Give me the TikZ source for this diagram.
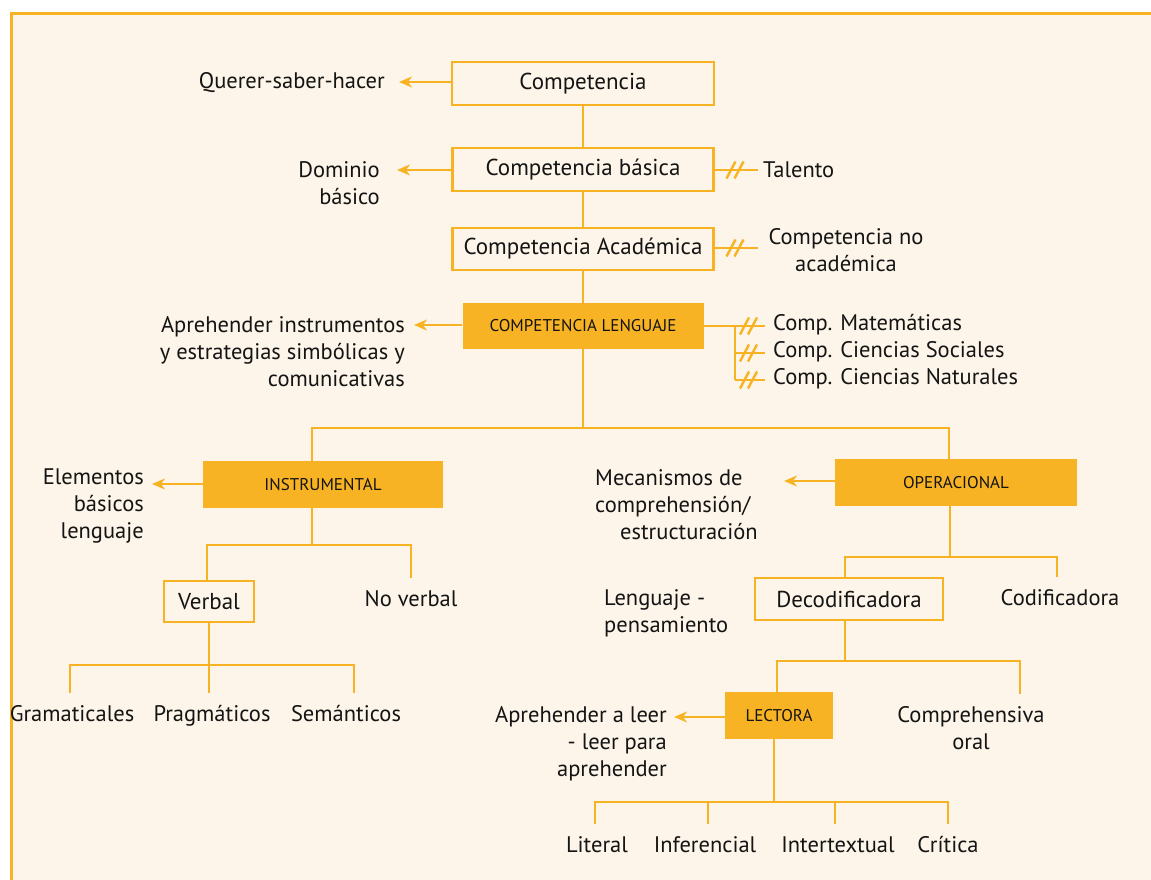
\documentclass[tikz,border=0pt]{standalone}
\usepackage{fontspec}
\setmainfont{PT Sans}
\usetikzlibrary{arrows.meta,decorations.markings}
\definecolor{frameor}{HTML}{F7B324}
\definecolor{paper}{HTML}{FDF5E9}
\definecolor{ink}{HTML}{141414}
\begin{document}
\begin{tikzpicture}[x=1pt,y=-1pt,
  link/.style={draw=frameor,line width=2.9pt},
  arr/.style={link,-{Stealth[length=13pt,width=11pt,inset=4pt]}},
  outbox/.style={draw=frameor,line width=2.9pt,fill=paper,inner sep=0pt,text=ink,
    font=\fontsize{23}{27}\selectfont},
  solidbox/.style={fill=frameor,inner sep=0pt,text=ink,font=\fontsize{17}{20}\selectfont},
  lbl/.style={inner sep=3pt,text=ink,font=\fontsize{22.5}{27}\selectfont},
  leaf/.style={lbl,inner ysep=12pt},
  neg/.style={postaction={decorate},decoration={markings,mark=at position 0.5 with
    {\draw[frameor,line width=2.4pt] (-10,8.5)--(-1,-8.5) (-2,8.5)--(7,-8.5);}}}
]
\useasboundingbox (0,0) rectangle (1151,880);
% page frame
\fill[paper] (10,12) rectangle (1151,880);
\draw[frameor,line width=3pt] (11.5,880) -- (11.5,13.5) -- (1151,13.5);

% main column
\node[outbox,minimum width=262pt,minimum height=43pt] (comp) at (583,83.5) {Competencia};
\node[outbox,minimum width=261pt,minimum height=43pt] (cb) at (583,169.5) {Competencia básica};
\node[outbox,minimum width=261pt,minimum height=42pt] (ca) at (583,249) {Competencia Académica};
\node[solidbox,minimum width=241pt,minimum height=46pt] (cl) at (583,326) {COMPETENCIA LENGUAJE};
\draw[link] (comp) -- (cb);
\draw[link] (cb) -- (ca);
\draw[link] (ca) -- (cl);

% left-hand outcomes
\node[lbl,anchor=base east] (qsh) at (388,89) {Querer-saber-hacer};
\coordinate (tipQ) at (399,82);
\draw[arr] (comp.west |- tipQ) -- (tipQ);
\node[lbl,anchor=north east,align=right] (dom) at (383,158) {Dominio\\básico};
\coordinate (tipD) at (397,170);
\draw[arr] (cb.west |- tipD) -- (tipD);
\node[lbl,anchor=north east,align=right] (apr) at (408,313) {Aprehender instrumentos\\y estrategias simbólicas y\\comunicativas};
\coordinate (tipA) at (414,325);
\draw[arr] (cl.west |- tipA) -- (tipA);

% right-hand contrasts
\node[lbl,anchor=base west] (tal) at (760,177) {Talento};
\coordinate (talL) at (758,170);
\draw[link,neg] (cb.east |- talL) -- (talL);
\node[lbl,anchor=north,align=center] (cna) at (846,225) {Competencia no\\académica};
\coordinate (cnaL) at (758,248);
\draw[link,neg] (ca.east |- cnaL) -- (cnaL);

\node[lbl,anchor=base west] (cm1) at (770,330) {Comp. Matemáticas};
\node[lbl,anchor=base west] (cm2) at (770,357) {Comp. Ciencias Sociales};
\node[lbl,anchor=base west] (cm3) at (770,384) {Comp. Ciencias Naturales};
\coordinate (cmJ1) at (735,326);
\coordinate (cmJ2) at (735,353);
\coordinate (cmJ3) at (735,380);
\coordinate (cmE1) at (765,326);
\coordinate (cmE2) at (765,353);
\coordinate (cmE3) at (765,380);
\draw[link] (cl.east) -- (cmJ1) -- (cmJ3);
\draw[link,neg] (cmJ1) -- (cmE1);
\draw[link,neg] (cmJ2) -- (cmE2);
\draw[link,neg] (cmJ3) -- (cmE3);

% second level
\node[solidbox,minimum width=240pt,minimum height=47pt] (instr) at (323,484.5) {INSTRUMENTAL};
\node[solidbox,minimum width=242pt,minimum height=47pt] (oper) at (956,482.5) {OPERACIONAL};
\coordinate (bA) at (583,428);
\coordinate (bAl) at (312,428);
\coordinate (bAr) at (949,428);
\draw[link] (cl.south) -- (bA);
\draw[link] (instr.north -| bAl) -- (bAl) -- (bAr) -- (oper.north -| bAr);

% instrumental branch
\node[lbl,anchor=north east,align=right] (ele) at (147,466) {Elementos\\básicos\\lenguaje};
\coordinate (tipE) at (152,484);
\draw[arr] (instr.west |- tipE) -- (tipE);
\node[outbox,minimum width=90pt,minimum height=41pt] (verb) at (209,601.5) {Verbal};
\node[leaf,anchor=base] (nov) at (411,606) {No verbal};
\coordinate (bB) at (312,545);
\coordinate (bBl) at (207,545);
\coordinate (bBr) at (411,545);
\draw[link] (instr.south -| bB) -- (bB);
\draw[link] (verb.north -| bBl) -- (bBl) -- (bBr) -- (nov.north -| bBr);

\node[leaf,anchor=base] (gra) at (72,721) {Gramaticales};
\node[leaf,anchor=base] (pra) at (212,721) {Pragmáticos};
\node[leaf,anchor=base] (sem) at (346,721) {Semánticos};
\coordinate (bC) at (209,665);
\coordinate (bCl) at (70,665);
\coordinate (bCr) at (354,665);
\draw[link] (verb.south) -- (bC);
\draw[link] (gra.north -| bCl) -- (bCl) -- (bCr) -- (sem.north -| bCr);
\draw[link] (bC) -- (pra.north -| bC);

% operacional branch
\node[lbl,anchor=north west,align=left] (mec) at (592,466) {Mecanismos de\\comprehensión/\\\hspace*{25pt}estructuración};
\coordinate (tipM) at (784,481);
\draw[arr] (oper.west |- tipM) -- (tipM);
\node[outbox,minimum width=188pt,minimum height=42pt] (deco) at (849,599) {Decodificadora};
\node[leaf,anchor=base] (cod) at (1060,605) {Codificadora};
\node[lbl,anchor=north west,align=left] (lp) at (601,586) {Lenguaje -\\pensamiento};
\coordinate (bD) at (950,557);
\coordinate (bDl) at (845,557);
\coordinate (bDr) at (1057,557);
\draw[link] (oper.south -| bD) -- (bD);
\draw[link] (deco.north -| bDl) -- (bDl) -- (bDr) -- (cod.north -| bDr);

\node[solidbox,minimum width=108pt,minimum height=47pt] (lect) at (779,715.5) {LECTORA};
\node[leaf,anchor=north,align=center] (cor) at (971,694) {Comprehensiva\\oral};
\coordinate (bE) at (845,661);
\coordinate (bEl) at (777,661);
\coordinate (bEr) at (1020,661);
\draw[link] (deco.south -| bE) -- (bE);
\draw[link] (lect.north -| bEl) -- (bEl) -- (bEr) -- (cor.north -| bEr);
\node[lbl,anchor=north east,align=right] (ale) at (670,703) {Aprehender a leer\\- leer para\\aprehender};
\coordinate (tipL) at (674,717);
\draw[arr] (lect.west |- tipL) -- (tipL);

% reading levels
\node[leaf,anchor=base] (lit) at (597,852) {Literal};
\node[leaf,anchor=base] (inf) at (705,852) {Inferencial};
\node[leaf,anchor=base] (int) at (838,852) {Intertextual};
\node[leaf,anchor=base] (cri) at (948,852) {Crítica};
\coordinate (bF) at (774,802);
\coordinate (bF1) at (595,802);
\coordinate (bF2) at (708,802);
\coordinate (bF3) at (835,802);
\coordinate (bF4) at (948,802);
\draw[link] (lect.south -| bF) -- (bF);
\draw[link] (lit.north -| bF1) -- (bF1) -- (bF4) -- (cri.north -| bF4);
\draw[link] (bF2) -- (inf.north -| bF2);
\draw[link] (bF3) -- (int.north -| bF3);
\end{tikzpicture}
\end{document}
